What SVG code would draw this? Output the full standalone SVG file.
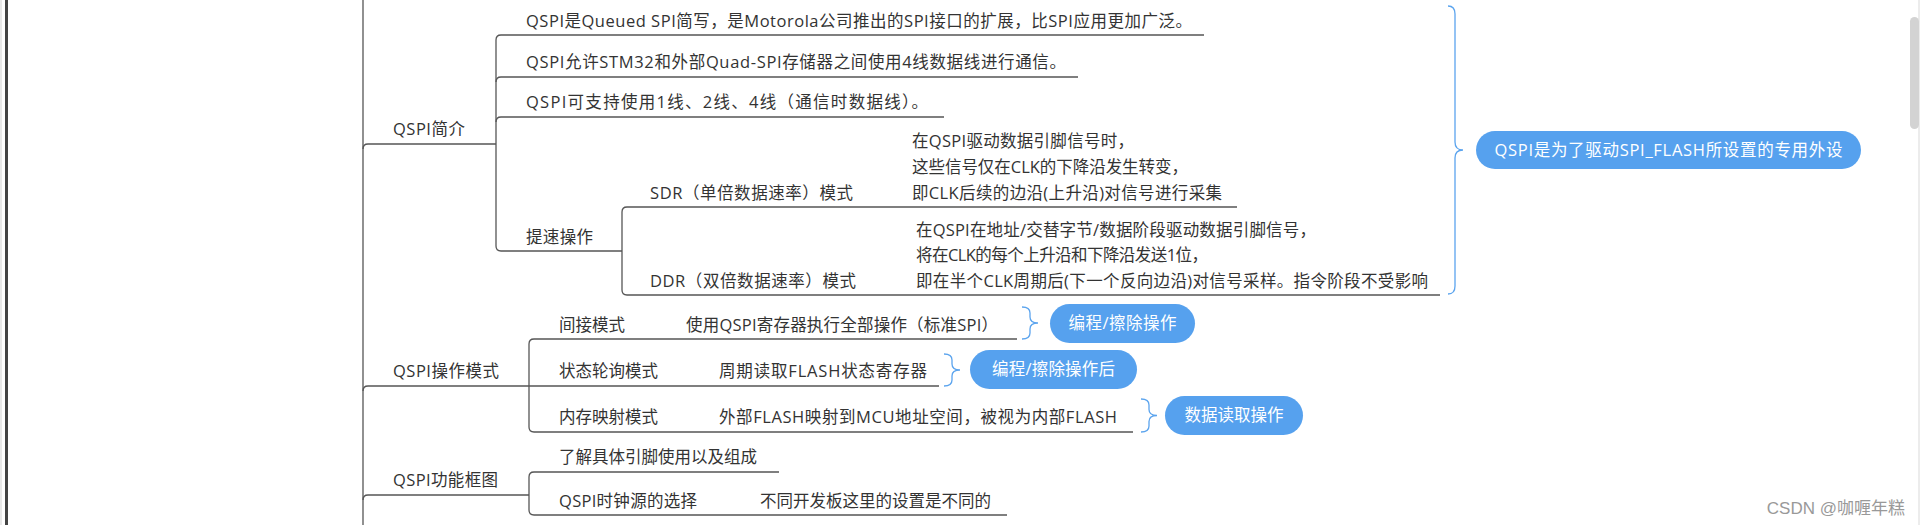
<svg xmlns="http://www.w3.org/2000/svg" width="1920" height="525" viewBox="0 0 1920 525">
<style>
.t{font-family:"Open Sans","Noto Sans CJK SC",sans-serif;font-size:16.5px;fill:#333}
.w{font-family:"Open Sans","Noto Sans CJK SC",sans-serif;font-size:16.5px;fill:#fff;text-anchor:middle}
.c{fill:none;stroke:#555;stroke-width:1.3}
.b{fill:none;stroke:#5ba4ee;stroke-width:1.3}
.n{fill:#56a1ee}
.wm{font-family:"Liberation Sans","Noto Sans CJK SC",sans-serif;font-size:17px;fill:#999;text-anchor:end}
</style>
<rect x="0" y="0" width="1920" height="525" fill="#fff"/>
<rect x="0" y="0" width="2" height="525" fill="#e8e8e8"/>
<rect x="5" y="0" width="3" height="525" fill="#444"/>
<rect x="1918" y="0" width="2" height="525" fill="#ececec"/>
<rect x="1910" y="17" width="9" height="112" rx="4.5" fill="#d3d3d3"/>

<g id="connectors">
<path class="c" d="M363,0 V525"/>
<path class="c" d="M496,144 H368 Q363,144 363,149"/>
<path class="c" d="M496,40 V246"/>
<path class="c" d="M1204,35 H501 Q496,35 496,40"/>
<path class="c" d="M1078,77 H501 Q496,77 496,82"/>
<path class="c" d="M944,117 H501 Q496,117 496,122"/>
<path class="c" d="M622,251 H501 Q496,251 496,246"/>
<path class="c" d="M622,212 V290"/>
<path class="c" d="M1237,207 H627 Q622,207 622,212"/>
<path class="c" d="M1440,295 H627 Q622,295 622,290"/>
<path class="c" d="M939,386 H368 Q363,386 363,391"/>
<path class="c" d="M529,344 V427"/>
<path class="c" d="M1017,339 H534 Q529,339 529,344"/>
<path class="c" d="M1133,432 H534 Q529,432 529,427"/>
<path class="c" d="M529,495 H368 Q363,495 363,500"/>
<path class="c" d="M529,477 V510"/>
<path class="c" d="M779,472 H534 Q529,472 529,477"/>
<path class="c" d="M1007,515 H534 Q529,515 529,510"/>
<path class="b" d="M1448,6 Q1455,6 1455,14 V142 Q1455,150 1463,150 Q1455,150 1455,158 V286 Q1455,294 1448,294"/>
<path class="b" d="M1022,307 Q1030,307 1030,313 V317 Q1030,323 1038,323 Q1030,323 1030,329 V333 Q1030,339 1022,339"/>
<path class="b" d="M944,354 Q952,354 952,360 V364 Q952,370 960,370 Q952,370 952,376 V380 Q952,386 944,386"/>
<path class="b" d="M1141,399 Q1149,399 1149,405 V409.5 Q1149,415.5 1157,415.5 Q1149,415.5 1149,421.5 V426 Q1149,432 1141,432"/>
</g>

<g id="qspi-intro"><text class="t" x="393" y="135" textLength="72" lengthAdjust="spacing">QSPI简介</text></g>
<g id="intro-1"><text class="t" x="526" y="27" textLength="666" lengthAdjust="spacing">QSPI是Queued SPI简写，是Motorola公司推出的SPI接口的扩展，比SPI应用更加广泛。</text></g>
<g id="intro-2"><text class="t" x="526" y="68" textLength="540" lengthAdjust="spacing">QSPI允许STM32和外部Quad-SPI存储器之间使用4线数据线进行通信。</text></g>
<g id="intro-3"><text class="t" x="526" y="108" textLength="402" lengthAdjust="spacing">QSPI可支持使用1线、2线、4线（通信时数据线）。</text></g>
<g id="speedup"><text class="t" x="526" y="243" textLength="67" lengthAdjust="spacing">提速操作</text></g>
<g id="sdr"><text class="t" x="650" y="199" textLength="203" lengthAdjust="spacing">SDR（单倍数据速率）模式</text></g>
<g id="sdr-desc">
<text class="t" x="912" y="147" textLength="222" lengthAdjust="spacing">在QSPI驱动数据引脚信号时，</text>
<text class="t" x="912" y="173" textLength="276" lengthAdjust="spacing">这些信号仅在CLK的下降沿发生转变，</text>
<text class="t" x="912" y="199" textLength="310" lengthAdjust="spacing">即CLK后续的边沿(上升沿)对信号进行采集</text>
</g>
<g id="ddr"><text class="t" x="650" y="287" textLength="206" lengthAdjust="spacing">DDR（双倍数据速率）模式</text></g>
<g id="ddr-desc">
<text class="t" x="916" y="236" textLength="400" lengthAdjust="spacing">在QSPI在地址/交替字节/数据阶段驱动数据引脚信号，</text>
<text class="t" x="916" y="261" textLength="292" lengthAdjust="spacing">将在CLK的每个上升沿和下降沿发送1位，</text>
<text class="t" x="916" y="287" textLength="512" lengthAdjust="spacing">即在半个CLK周期后(下一个反向边沿)对信号采样。指令阶段不受影响</text>
</g>
<g id="summary-1"><rect class="n" x="1476" y="131" width="385" height="38" rx="19"/><text class="w" x="1668.5" y="156" textLength="348" lengthAdjust="spacing">QSPI是为了驱动SPI_FLASH所设置的专用外设</text></g>

<g id="qspi-modes"><text class="t" x="393" y="377" textLength="106" lengthAdjust="spacing">QSPI操作模式</text></g>
<g id="indirect"><text class="t" x="559" y="331" textLength="66" lengthAdjust="spacing">间接模式</text></g>
<g id="indirect-desc"><text class="t" x="686" y="331" textLength="312" lengthAdjust="spacing">使用QSPI寄存器执行全部操作（标准SPI）</text></g>
<g id="summary-2"><rect class="n" x="1050" y="304" width="145" height="39" rx="19.5"/><text class="w" x="1122.5" y="329" textLength="108" lengthAdjust="spacing">编程/擦除操作</text></g>
<g id="polling"><text class="t" x="559" y="377" textLength="99" lengthAdjust="spacing">状态轮询模式</text></g>
<g id="polling-desc"><text class="t" x="719" y="377" textLength="208" lengthAdjust="spacing">周期读取FLASH状态寄存器</text></g>
<g id="summary-3"><rect class="n" x="970" y="350" width="167" height="39" rx="19.5"/><text class="w" x="1053.5" y="375" textLength="123" lengthAdjust="spacing">编程/擦除操作后</text></g>
<g id="memmap"><text class="t" x="559" y="423" textLength="99" lengthAdjust="spacing">内存映射模式</text></g>
<g id="memmap-desc"><text class="t" x="719" y="423" textLength="398" lengthAdjust="spacing">外部FLASH映射到MCU地址空间，被视为内部FLASH</text></g>
<g id="summary-4"><rect class="n" x="1165" y="396" width="138" height="39" rx="19.5"/><text class="w" x="1234" y="421" textLength="99" lengthAdjust="spacing">数据读取操作</text></g>

<g id="qspi-block"><text class="t" x="393" y="486" textLength="105" lengthAdjust="spacing">QSPI功能框图</text></g>
<g id="pins"><text class="t" x="559" y="463" textLength="198" lengthAdjust="spacing">了解具体引脚使用以及组成</text></g>
<g id="clock"><text class="t" x="559" y="507" textLength="138" lengthAdjust="spacing">QSPI时钟源的选择</text></g>
<g id="clock-desc"><text class="t" x="760" y="507" textLength="231" lengthAdjust="spacing">不同开发板这里的设置是不同的</text></g>

<text class="wm" x="1905" y="514">CSDN @咖喱年糕</text>
</svg>
